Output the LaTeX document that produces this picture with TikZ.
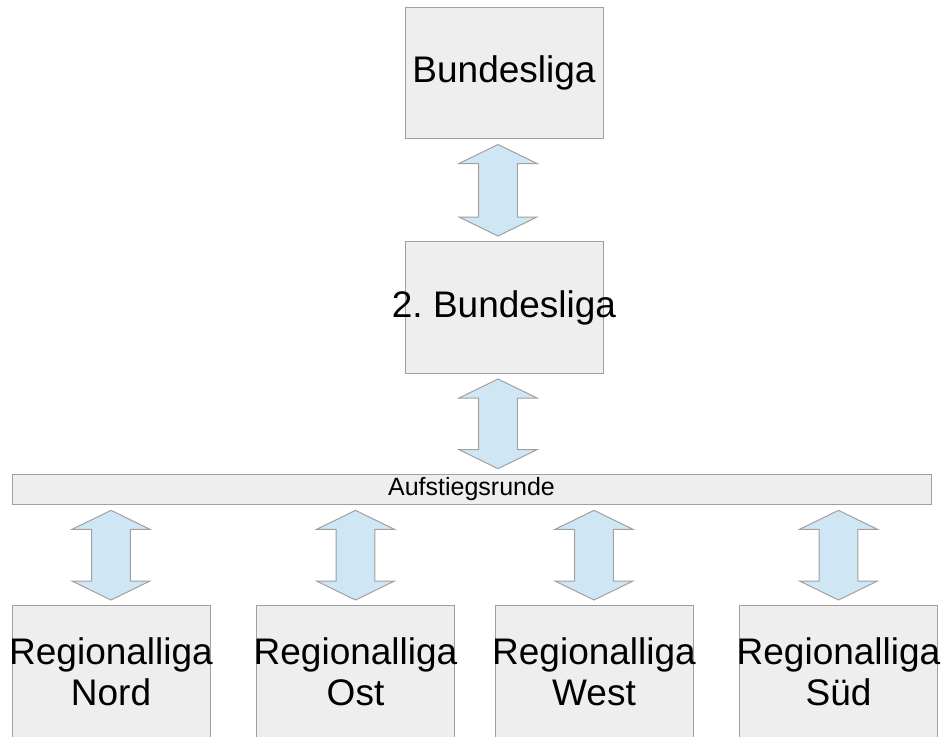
\documentclass[tikz,border=0pt]{standalone}
\usepackage{fontspec}
\setmainfont{Liberation Sans}
\usetikzlibrary{calc}
\definecolor{boxfill}{RGB}{238,238,238}
\definecolor{boxline}{RGB}{160,160,160}
\definecolor{arrowfill}{RGB}{207,231,245}
\newcommand\overhang[1]{\makebox[0pt]{#1}}
\newcommand\dblarrow[3][0pt]{%
  \draw[blockarrow] let \p1=(#2), \p2=($(#3)+(#1,0)$) in
    (\x2,{\y1-4pt}) -- ({\x2+29.25pt},{\y1-18.25pt}) -- ({\x2+14.6pt},{\y1-18.25pt})
    -- ({\x2+14.6pt},{\y2+18.25pt}) -- ({\x2+29.25pt},{\y2+18.25pt}) -- (\x2,{\y2+4pt})
    -- ({\x2-29.25pt},{\y2+18.25pt}) -- ({\x2-14.6pt},{\y2+18.25pt})
    -- ({\x2-14.6pt},{\y1-18.25pt}) -- ({\x2-29.25pt},{\y1-18.25pt}) -- cycle;}
\begin{document}
\begin{tikzpicture}[x=0.75pt,y=-0.75pt,
     every node/.style =
     {draw=boxline,fill=boxfill,line width=0.75pt,inner sep=0pt,align=center},
     liga/.style = {minimum width=148.5pt,minimum height=98.5pt,
       font=\fontsize{27.75}{30.75}\selectfont},
     blockarrow/.style = {draw=boxline,fill=arrowfill,line width=0.75pt,line join=miter}]
     \useasboundingbox (0,0) rectangle (945,736);
     \node[liga](bl) at (504,73) {\overhang{Bundesliga}};
     \node[liga](bltwo) at (504,307.5) {\overhang{2.\ Bundesliga}};
     \node[minimum width=689.25pt,minimum height=22.5pt,
       font=\fontsize{18.75}{20}\selectfont](auf) at (471.5,489.5) {Aufstiegsrunde};
     \node[liga](nord) at (111,671.5) {\overhang{Regionalliga}\\\overhang{Nord}};
     \node[liga](ost) at (355.5,671.5) {\overhang{Regionalliga}\\\overhang{Ost}};
     \node[liga](west) at (594,671.5) {\overhang{Regionalliga}\\\overhang{West}};
     \node[liga](sued) at (838.5,671.5) {\overhang{Regionalliga}\\\overhang{Süd}};
     \dblarrow[-4.5pt]{bl.south}{bltwo.north}
     \dblarrow[-4.5pt]{bltwo.south}{auf.north -| bltwo.south}
     \dblarrow{auf.south}{nord.north}
     \dblarrow{auf.south}{ost.north}
     \dblarrow{auf.south}{west.north}
     \dblarrow{auf.south}{sued.north}
   \end{tikzpicture}
\end{document}
